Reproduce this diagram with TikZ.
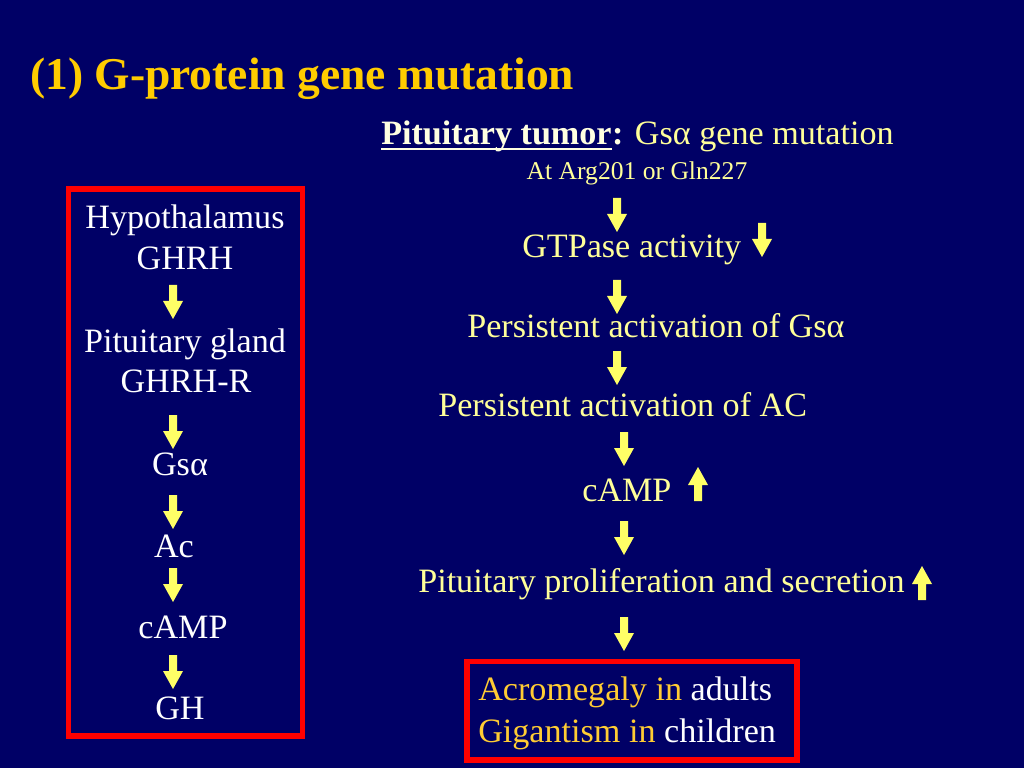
\documentclass[tikz,border=0pt]{standalone}
\usepackage{fontspec}
\setmainfont{Liberation Serif}
\definecolor{bg}{RGB}{0,0,102}
\definecolor{titlegold}{RGB}{255,204,0}
\definecolor{ltyel}{RGB}{255,255,153}
\definecolor{arrowyel}{RGB}{255,255,102}
\definecolor{boxred}{RGB}{255,0,0}
\definecolor{cream}{RGB}{255,255,225}
\definecolor{ambergold}{RGB}{255,204,51}
\tikzset{
  lefttxt/.style={text=white,font=\fontsize{24}{28}\selectfont,inner sep=0pt,anchor=base},
  righttxt/.style={text=ltyel,font=\fontsize{24}{28}\selectfont,inner sep=0pt,anchor=base west},
  redbox/.style={draw=boxred,line width=4.2pt},
  pics/dn/.style={code={\fill[arrowyel] (-4,0)--(4,0)--(4,16)--(10,16)--(0,34)--(-10,16)--(-4,16)--cycle;}},
  pics/up/.style={code={\fill[arrowyel] (0,0)--(10,18)--(4,18)--(4,34)--(-4,34)--(-4,18)--(-10,18)--cycle;}}
}
\begin{document}
\begin{tikzpicture}[x=0.703125pt,y=-0.703125pt]
\fill[bg] (0,0) rectangle (1024,768);
\useasboundingbox (0,0) rectangle (1024,768);
% title
\node[text=titlegold,font=\fontsize{32}{38}\selectfont\bfseries,inner sep=0pt,anchor=base west] (title) at (30,90) {(1) G-protein gene mutation};
% left box
\draw[redbox] (68.5,189) rectangle (302.5,736);
\node[lefttxt] (hyp) at (185,229) {Hypothalamus};
\node[lefttxt] (ghrh) at (185,270) {GHRH};
\pic (la1) at (173,285) {dn};
\node[lefttxt] (pg) at (185,352) {Pituitary gland};
\node[lefttxt] (ghrhr) at (186,392) {GHRH-R};
\pic (la2) at (173,415) {dn};
\node[lefttxt] (lgs) at (180,475) {Gsα};
\pic (la3) at (173,495) {dn};
\node[lefttxt] (lac) at (174,557) {Ac};
\pic (la4) at (173,568) {dn};
\node[lefttxt] (lcamp) at (183,638) {cAMP};
\pic (la5) at (173,655) {dn};
\node[lefttxt] (lgh) at (180,719) {GH};
% right column
\node[righttxt,text=cream,font=\fontsize{24}{28}\selectfont\bfseries] (ptl) at (381,145) {Pituitary tumor};
\node[righttxt] (ptr) at (ptl.base east) {\textcolor{cream}{\bfseries :} Gsα gene mutation};
\draw[cream,line width=1.4pt] ([yshift=-3pt]ptl.base west) -- ([yshift=-3pt]ptl.base east);
\node[text=ltyel,font=\fontsize{18}{22}\selectfont,inner sep=0pt,anchor=base] (arg) at (637,180) {At Arg201 or Gln227};
\pic (ra1) at (617,198) {dn};
\node[righttxt] (gtp) at (522,258) {GTPase activity};
\pic (rd1) at (762,223) {dn};
\pic (ra2) at (617,280) {dn};
\node[righttxt] (pags) at (467,338) {Persistent activation of Gsα};
\pic (ra3) at (617,351) {dn};
\node[righttxt] (paac) at (438,416) {Persistent activation of AC};
\pic (ra4) at (624,432) {dn};
\node[righttxt] (rcamp) at (582,501) {cAMP};
\pic (ru1) at (698,467) {up};
\pic (ra5) at (624,521) {dn};
\node[righttxt] (ppas) at (418,592) {Pituitary proliferation and secretion};
\pic (ru2) at (922,566) {up};
\pic (ra6) at (624,617) {dn};
% bottom box
\draw[redbox] (467,661.5) rectangle (797,760);
\node[righttxt,text=ambergold] (acro) at (478,700) {Acromegaly in \textcolor{white}{adults}};
\node[righttxt,text=ambergold] (giga) at (478,742) {Gigantism in \textcolor{white}{children}};
\end{tikzpicture}
\end{document}
